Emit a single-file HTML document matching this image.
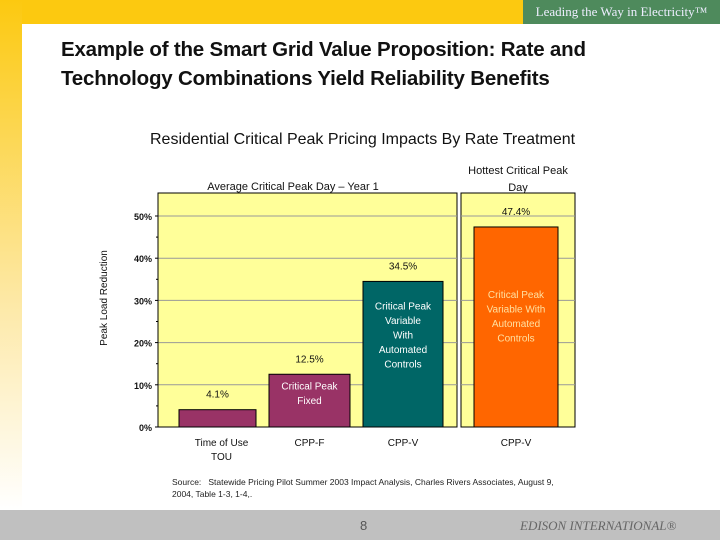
<!DOCTYPE html>
<html><head><meta charset="utf-8"><style>
body{margin:0;width:720px;height:540px;position:relative;overflow:hidden;background:#fff;font-family:"Liberation Sans",sans-serif}
.abs{position:absolute}
</style></head><body>
<div class="abs" style="left:0;top:0;width:720px;height:24px;background:#fcc910"></div>
<div class="abs" style="left:0;top:0;width:22px;height:510px;background:linear-gradient(#fcc910,#fde9a8 60%,#fff)"></div>
<div class="abs" style="left:523px;top:0;width:197px;height:24px;background:#4e8a5c;color:#eef;font-family:'Liberation Serif',serif;font-size:13px;line-height:24px;text-align:center">Leading the Way in Electricity™</div>
<div class="abs" style="left:61px;top:35px;font-size:20.5px;font-weight:bold;line-height:29px;color:#111;letter-spacing:-0.2px">Example of the Smart Grid Value Proposition: Rate and<br>Technology Combinations Yield Reliability Benefits</div>
<div class="abs" style="left:150px;top:131px;font-size:16px;color:#111">Residential Critical Peak Pricing Impacts By Rate Treatment</div>
<svg class="abs" style="left:0;top:0" width="720" height="540" id="chart"></svg>
<div class="abs" style="left:172px;top:476px;font-size:8.5px;line-height:12px;color:#222">Source:&nbsp;&nbsp; Statewide Pricing Pilot Summer 2003 Impact Analysis, Charles Rivers Associates, August 9,<br>2004, Table 1-3, 1-4,.</div>
<div class="abs" style="left:0;top:510px;width:720px;height:30px;background:#c0c0c0"></div>
<div class="abs" style="left:360px;top:518px;font-size:13px;color:#555">8</div>
<div class="abs" style="left:520px;top:518px;font-family:'Liberation Serif',serif;font-style:italic;font-size:13px;color:#666">EDISON INTERNATIONAL®</div>
<script>
const categories=["Time of Use\nTOU","CPP-F","CPP-V","CPP-V"];
const values=[4.1,12.5,34.5,47.4];
const valueLabels=["4.1%","12.5%","34.5%","47.4%"];
const innerLabels=["","Critical Peak\nFixed","Critical Peak\nVariable\nWith\nAutomated\nControls","Critical Peak\nVariable With\nAutomated\nControls"];
const yTicks=[0,10,20,30,40,50];
const NS="http://www.w3.org/2000/svg";
const svg=document.getElementById('chart');
const y0=427,pxPer=4.22;
const y=v=>y0-v*pxPer;
const barX=[[179,256],[269,350],[363,443],[474,558]];
const colors=["#993366","#993366","#006666","#ff6600"];
const txtColors=["#fff","#fff","#fff","#ffe0a0"];
function mk(t,a){const e=document.createElementNS(NS,t);for(const k in a)e.setAttribute(k,a[k]);svg.appendChild(e);return e;}
function text(x,yy,s,size,fill,anchor,bold){const e=mk('text',{x:x,y:yy,'font-size':size,fill:fill,'text-anchor':anchor||'middle','font-family':'Liberation Sans, sans-serif'});if(bold)e.setAttribute('font-weight','bold');e.textContent=s;return e;}
let p=mk('rect',{x:158,y:193,width:299,height:234,fill:'#ffff99',stroke:'#000','stroke-width':1});

p=mk('rect',{x:461,y:193,width:114,height:234,fill:'#ffff99',stroke:'#000','stroke-width':1});

yTicks.forEach(t=>{
 if(t>0){let g=mk('line',{x1:158,x2:457,y1:y(t),y2:y(t),stroke:'#999'});
 g=mk('line',{x1:461,x2:575,y1:y(t),y2:y(t),stroke:'#999'});}
 const l=text(152,y(t)+4,t+'%',9,'#111','end',true);
 mk('line',{x1:155,x2:158,y1:y(t),y2:y(t),stroke:'#000'});
 if(t<50)mk('line',{x1:156,x2:158,y1:y(t+5),y2:y(t+5),stroke:'#000'});
});
mk('line',{x1:158,x2:158,y1:193,y2:427,stroke:'#000'});
values.forEach((v,i)=>{
 const [a,b]=barX[i];const cx=(a+b)/2;
 const r=mk('rect',{x:a,y:y(v),width:b-a,height:y0-y(v),fill:colors[i],stroke:'#000','stroke-width':1});
 
 const vl=text(cx,y(v)-12,valueLabels[i],10,'#111');
 
 const lines=innerLabels[i].split('\n').filter(s=>s);
 const startY=i==1?y(v)+15:i==2?y(v)+28:y(v)+71;
 lines.forEach((s,k)=>{const t=text(cx,startY+k*14.5,s,10,txtColors[i]);});
 categories[i].split('\n').forEach((s,k)=>{const t=text(cx+(i==0?4:0),446+k*14,s,10,'#111','middle',false);});
});
let t=text(293,190,'Average Critical Peak Day \u2013 Year 1',11,'#111');
t=text(518,174,'Hottest Critical Peak',11,'#111');
t=text(518,191,'Day',11,'#111');
t=text(0,0,'Peak Load Reduction',10,'#111');t.setAttribute('transform','translate(107,298) rotate(-90)');

</script>
</body></html>
